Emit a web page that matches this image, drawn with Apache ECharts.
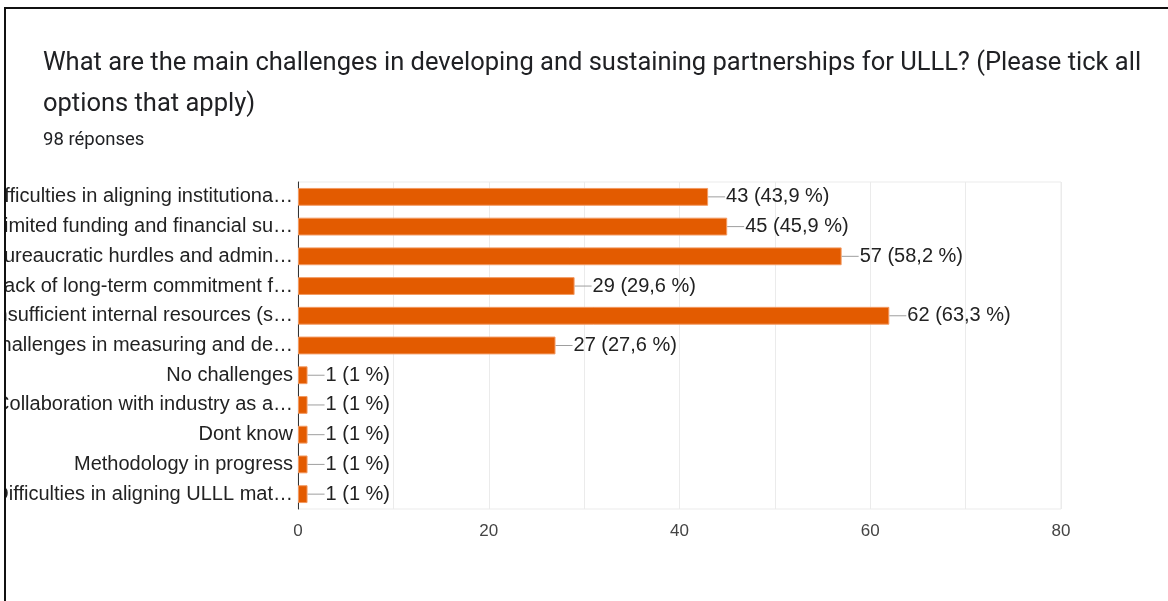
<!DOCTYPE html>
<html>
<head>
<meta charset="utf-8">
<script src="https://cdn.jsdelivr.net/npm/echarts@6/dist/echarts.min.js"></script>
<style>
  html, body { margin: 0; padding: 0; background: #fff; overflow: hidden; }
  #frame {
    position: absolute; left: 4px; top: 7px;
    width: 1164px; height: 594px;
    border-left: 2px solid #111; border-top: 2px solid #111;
    overflow: hidden;
  }
  #chart { width: 1162px; height: 592px; }
</style>
</head>
<body>
<div id="frame"><div id="chart"></div></div>
<script>
// Survey question and respondent count
const questionLines = [
  'What are the main challenges in developing and sustaining partnerships for ULLL? (Please tick all',
  'options that apply)'
];
const responsesLabel = '98 réponses';
const totalResponses = 98;

// Answer options (as shown, truncated) and the number of respondents for each
const categories = [
  'Difficulties in aligning institutiona…',
  'Limited funding and financial su…',
  'Bureaucratic hurdles and admin…',
  'Lack of long-term commitment f…',
  'Insufficient internal resources (s…',
  'Challenges in measuring and de…',
  'No challenges',
  'Collaboration with industry as a…',
  'Dont know',
  'Methodology in progress',
  'Difficulties in aligning ULLL mat…'
];
const counts = [43, 45, 57, 29, 62, 27, 1, 1, 1, 1, 1];

// Horizontal axis range and label step
const axisMin = 0;
const axisMax = 80;
const gridStep = 10;
const labelStep = 20;

function pct(v) {
  const p = Math.round(v / totalResponses * 1000) / 10;
  return String(p).replace('.', ',');
}

const chart = echarts.init(document.getElementById('chart'), null, { renderer: 'canvas' });

chart.setOption({
  animation: false,
  backgroundColor: '#fff',
  title: [
    {
      text: questionLines.join('\n'),
      left: 37, top: 34, padding: 0,
      textStyle: {
        fontFamily: 'Roboto', fontSize: 25.5, fontWeight: 'normal',
        color: '#202124', lineHeight: 41
      }
    },
    {
      text: responsesLabel,
      left: 37, top: 122, padding: 0,
      textStyle: {
        fontFamily: 'Roboto', fontSize: 18.5, fontWeight: 'normal', color: '#202124'
      }
    }
  ],
  grid: {
    left: 292, top: 173, width: 763, height: 327,
    show: true, borderColor: '#ebebeb', borderWidth: 1,
    containLabel: false,
    outerBoundsMode: 'none'
  },
  xAxis: {
    type: 'value',
    min: axisMin, max: axisMax, interval: gridStep,
    axisLine: { show: false },
    axisTick: { show: false },
    splitLine: { show: true, lineStyle: { color: '#ebebeb', width: 1 } },
    axisLabel: {
      margin: 14,
      fontFamily: 'Liberation Sans', fontSize: 17, color: '#444',
      formatter: v => (v % labelStep === 0 ? String(v) : '')
    }
  },
  yAxis: {
    type: 'category',
    data: categories,
    inverse: true,
    axisLine: { show: true, lineStyle: { color: '#333', width: 1 } },
    axisTick: { show: false },
    splitLine: { show: false },
    axisLabel: {
      margin: 5,
      fontFamily: 'Liberation Sans', fontSize: 20, color: '#222'
    }
  },
  series: [{
    type: 'bar',
    data: counts,
    barCategoryGap: '40%',
    itemStyle: { color: '#e35b00', borderColor: '#f29a62', borderWidth: 1 },
    label: {
      show: true,
      position: 'right',
      distance: 0,
      formatter: p => '{ln|}{t|' + p.value + ' (' + pct(p.value) + ' %)}',
      rich: {
        ln: { width: 17, height: 1, backgroundColor: '#9e9e9e' },
        t: { fontFamily: 'Liberation Sans', fontSize: 20, color: '#222', padding: [0, 0, 0, 1] }
      }
    }
  }]
});
</script>
</body>
</html>
